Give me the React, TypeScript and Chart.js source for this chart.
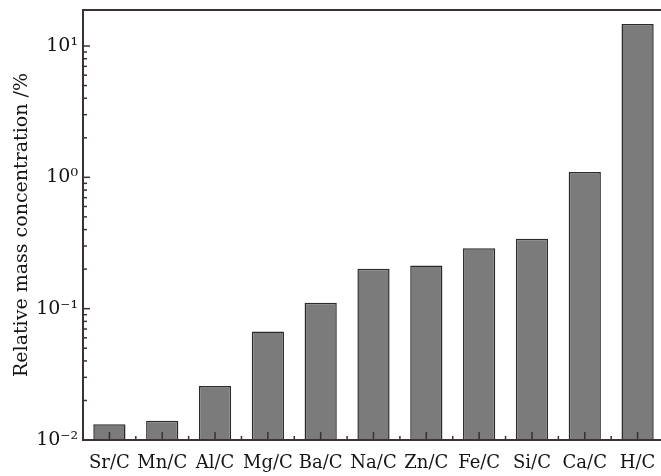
import React, { useEffect, useRef } from 'react';
import { Chart, registerables } from 'chart.js';

Chart.register(...registerables);

const categories = ['Sr/C', 'Mn/C', 'Al/C', 'Mg/C', 'Ba/C', 'Na/C', 'Zn/C', 'Fe/C', 'Si/C', 'Ca/C', 'H/C'];
const concentrations = [0.0132, 0.014, 0.0258, 0.067, 0.111, 0.201, 0.213, 0.288, 0.34, 1.1, 14.7];
const yTickValues = [0.01, 0.1, 1, 10];
const yTickLabels = ['10\u207B\u00B2', '10\u207B\u00B9', '10\u2070', '10\u00B9'];
const yAxisMin = 0.01;
const yAxisMax = 18.8;
const yTitle = 'Relative mass concentration /%';

const AXIS_COLOR = '#3a3232';
const BAR_FILL = '#7b7b7b';
const BAR_EDGE = '#2f2a2a';
const TEXT_COLOR = '#151515';
const FONT = '"DejaVu Serif", serif';

const framePlugin = {
  id: 'frameTicks',
  afterDatasetsDraw(chart: any) {
    const { ctx, chartArea, scales } = chart;
    const { left, right, top, bottom } = chartArea;
    const x = scales.x;
    const y = scales.y;
    ctx.save();
    ctx.strokeStyle = AXIS_COLOR;
    ctx.lineWidth = 1.5;
    for (let e = -2; e <= 1; e++) {
      for (let m = 1; m <= 9; m++) {
        const v = m * Math.pow(10, e);
        if (v > yAxisMax) break;
        const py = y.getPixelForValue(v);
        const len = m === 1 ? 7 : 4;
        ctx.beginPath();
        ctx.moveTo(left, py);
        ctx.lineTo(left + len, py);
        ctx.stroke();
      }
    }
    const n = categories.length;
    const step = x.getPixelForValue(1) - x.getPixelForValue(0);
    for (let i = 0; i < n; i++) {
      const px = x.getPixelForValue(i);
      ctx.beginPath();
      ctx.moveTo(px, bottom);
      ctx.lineTo(px, bottom - 8);
      ctx.stroke();
      const pb = px + step / 2;
      ctx.beginPath();
      ctx.moveTo(pb, bottom);
      ctx.lineTo(pb, bottom - 4);
      ctx.stroke();
    }
    ctx.lineWidth = 2;
    ctx.beginPath();
    ctx.moveTo(left, bottom);
    ctx.lineTo(left, top);
    ctx.lineTo(right, top);
    ctx.lineTo(right, bottom);
    ctx.closePath();
    ctx.stroke();
    ctx.restore();
  },
};

export default function App() {
  const canvasRef = useRef<HTMLCanvasElement | null>(null);

  useEffect(() => {
    if (!canvasRef.current) return;
    const chart = new Chart(canvasRef.current, {
      type: 'bar',
      data: {
        labels: categories,
        datasets: [
          {
            data: concentrations,
            backgroundColor: BAR_FILL,
            borderColor: BAR_EDGE,
            borderWidth: 1.5,
            barPercentage: 0.61,
            categoryPercentage: 1,
          },
        ],
      },
      options: {
        animation: false,
        responsive: true,
        maintainAspectRatio: false,
        layout: { padding: { top: 10, right: 16, left: 0, bottom: 0 } },
        plugins: {
          legend: { display: false },
          tooltip: { enabled: false },
        },
        scales: {
          x: {
            type: 'category',
            grid: { display: false, drawTicks: false },
            border: { display: false },
            ticks: {
              color: TEXT_COLOR,
              font: { family: FONT, size: 18 },
              padding: 13,
              maxRotation: 0,
              autoSkip: false,
            },
            afterFit: (s: any) => {
              s.height = 36;
              s.paddingLeft = 0;
              s.paddingRight = 0;
            },
          },
          y: {
            type: 'logarithmic',
            min: yAxisMin,
            max: yAxisMax,
            grid: { display: false, drawTicks: false },
            border: { display: false },
            afterBuildTicks: (s: any) => {
              s.ticks = yTickValues.map((v) => ({ value: v }));
            },
            ticks: {
              color: TEXT_COLOR,
              font: { family: FONT, size: 19 },
              padding: 5,
              callback: (value: any) => {
                const idx = yTickValues.findIndex((v) => Math.abs(v - Number(value)) < 1e-9 * Math.max(1, v));
                return idx >= 0 ? yTickLabels[idx] : '';
              },
            },
            title: {
              display: true,
              text: yTitle,
              color: TEXT_COLOR,
              font: { family: FONT, size: 19 },
              padding: { top: 11, bottom: 0 },
            },
            afterFit: (s: any) => {
              s.width = 83;
              s.paddingTop = 0;
              s.paddingBottom = 0;
            },
          },
        },
      },
      plugins: [framePlugin],
    });
    return () => chart.destroy();
  }, []);

  return (
    <div
      style={{
        position: 'fixed',
        left: 0,
        top: 0,
        width: 661,
        height: 476,
        overflow: 'hidden',
        background: '#ffffff',
      }}
    >
      <div style={{ position: 'relative', width: 680, height: 476 }}>
        <canvas ref={canvasRef} />
      </div>
    </div>
  );
}
